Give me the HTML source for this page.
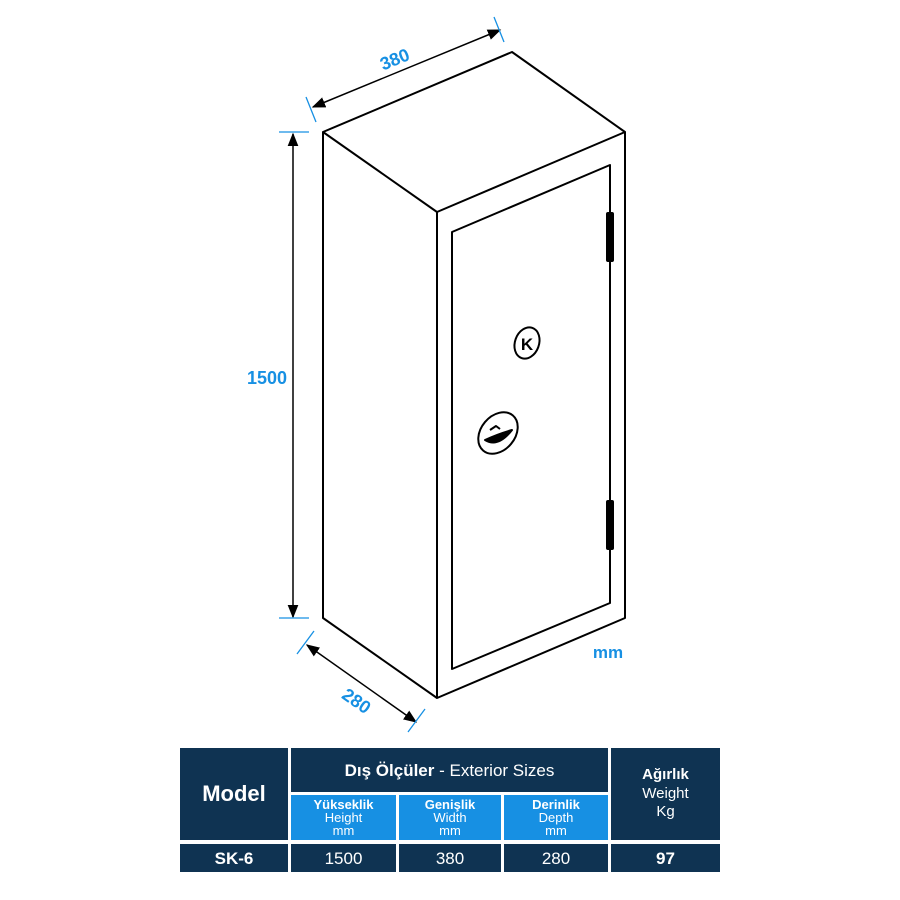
<!DOCTYPE html><html><head><style>
body{margin:0;width:900px;height:900px;background:#fff;font-family:"Liberation Sans",sans-serif;position:relative;overflow:hidden}
.c{position:absolute;color:#fff;text-align:center;display:flex;flex-direction:column;justify-content:center;line-height:1}
.d{background:#0f3352}.b{background:#1790e3}
</style></head><body>
<svg width="900" height="900" style="position:absolute;left:0;top:0">
<defs><marker id="a" viewBox="0 0 10 10" refX="9" refY="5" markerWidth="9" markerHeight="9" orient="auto-start-reverse"><path d="M0,1 L10,5 L0,9z" fill="#000"/></marker></defs>
<g fill="none" stroke="#000" stroke-width="2" stroke-linejoin="round">
<path d="M323,132 L512,52 L625,132 L437,212 Z"/>
<path d="M323,132 L323,618 L437,698 L625,618 L625,132"/>
<path d="M437,212 L437,698"/>
<path d="M452,232 L610,165 L610,603 L452,669 Z"/>
<ellipse cx="527" cy="343" rx="12" ry="16" transform="rotate(20 527 343)"/>
<ellipse cx="498" cy="433" rx="17" ry="23" transform="rotate(40 498 433)"/>
<path d="M485,440 Q498,448 512,430 Q498,434 485,440Z" fill="#000"/>
<path d="M490,430 l6,-4 l4,3" />
</g>
<text x="527" y="350" font-size="17" font-weight="bold" text-anchor="middle" font-family="Liberation Sans">K</text>
<rect x="606" y="212" width="8" height="50" rx="2"/>
<rect x="606" y="500" width="8" height="50" rx="2"/>
<g stroke="#000" stroke-width="1.5" fill="none">
<line x1="313" y1="107" x2="500" y2="30" marker-start="url(#a)" marker-end="url(#a)"/>
<line x1="293" y1="134" x2="293" y2="617" marker-start="url(#a)" marker-end="url(#a)"/>
<line x1="307" y1="645" x2="416" y2="722" marker-start="url(#a)" marker-end="url(#a)"/>
</g>
<g stroke="#1790e3" stroke-width="1.3">
<line x1="306" y1="97" x2="316" y2="122"/><line x1="494" y1="17" x2="504" y2="42"/>
<line x1="279" y1="132" x2="309" y2="132"/><line x1="279" y1="618" x2="309" y2="618"/>
<line x1="297" y1="654" x2="314" y2="631"/><line x1="408" y1="732" x2="425" y2="709"/>
</g>
<g fill="#1790e3" font-weight="bold" font-size="18" font-family="Liberation Sans">
<text x="397" y="65" transform="rotate(-22 397 65)" text-anchor="middle">380</text>
<text x="267" y="384" text-anchor="middle">1500</text>
<text x="353" y="706" transform="rotate(35 353 706)" text-anchor="middle">280</text>
<text x="608" y="658" text-anchor="middle" font-size="17">mm</text>
</g>
</svg>
<div class="c d" style="left:180px;top:748px;width:108px;height:92px;font-size:22px;font-weight:bold">Model</div>
<div class="c d" style="left:291px;top:748px;width:317px;height:44px;font-size:17px"><div><b>Dış Ölçüler</b> - Exterior Sizes</div></div>
<div class="c b" style="left:291px;top:795px;width:105px;height:45px;font-size:13px"><b>Yükseklik</b><span>Height</span><span>mm</span></div>
<div class="c b" style="left:399px;top:795px;width:102px;height:45px;font-size:13px"><b>Genişlik</b><span>Width</span><span>mm</span></div>
<div class="c b" style="left:504px;top:795px;width:104px;height:45px;font-size:13px"><b>Derinlik</b><span>Depth</span><span>mm</span></div>
<div class="c d" style="left:611px;top:748px;width:109px;height:92px;font-size:15px;line-height:1.25"><b>Ağırlık</b><span>Weight</span><span>Kg</span></div>
<div class="c d" style="left:180px;top:844px;width:108px;height:28px;font-size:17px;font-weight:bold">SK-6</div>
<div class="c d" style="left:291px;top:844px;width:105px;height:28px;font-size:17px">1500</div>
<div class="c d" style="left:399px;top:844px;width:102px;height:28px;font-size:17px">380</div>
<div class="c d" style="left:504px;top:844px;width:104px;height:28px;font-size:17px">280</div>
<div class="c d" style="left:611px;top:844px;width:109px;height:28px;font-size:17px;font-weight:bold">97</div>
</body></html>
